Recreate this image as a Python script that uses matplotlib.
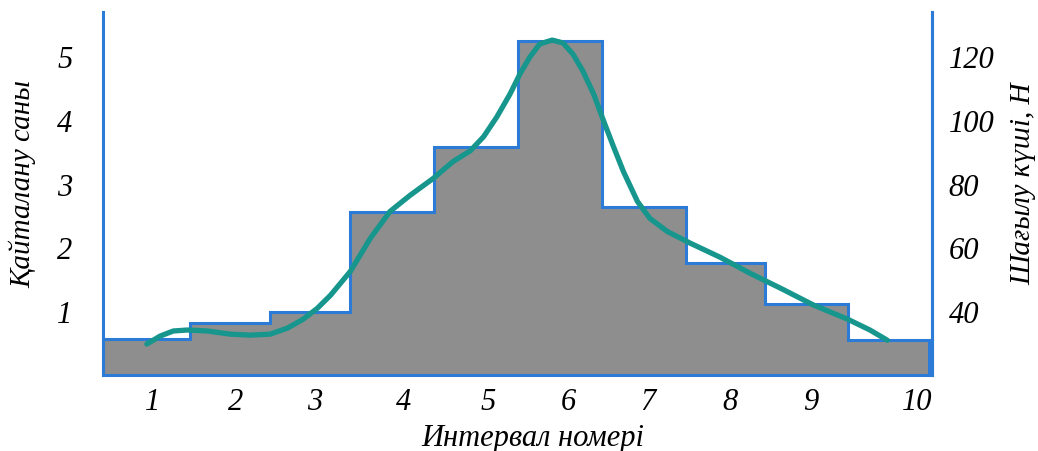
import numpy as np
import matplotlib
matplotlib.use("Agg")
import matplotlib.pyplot as plt

# histogram: bin edges and counts (left axis)
edges = [0, 1.05, 2.02, 2.99, 4.00, 5.02, 6.03, 7.05, 8.00, 9.01, 9.98]
counts = [0.56, 0.81, 0.98, 2.56, 3.58, 5.23, 2.63, 1.75, 1.11, 0.55]

# x tick labels
tick_labels = ["1", "2", "3", "4", "5", "6", "7", "8", "9", "10"]
tick_pos = [0.60, 1.60, 2.56, 3.63, 4.66, 5.62, 6.59, 7.58, 8.55, 9.84]

# reflected force curve (right axis)
curve_x = [0.53, 0.69, 0.85, 1.02, 1.26, 1.54, 1.78, 2.02, 2.23, 2.42,
           2.59, 2.75, 2.99, 3.23, 3.47, 3.71, 3.99, 4.23, 4.44, 4.60,
           4.76, 4.92, 5.04, 5.16, 5.28, 5.43, 5.56, 5.68, 5.80, 5.93,
           6.05, 6.17, 6.29, 6.46, 6.61, 6.82, 7.10, 7.46, 7.82, 8.19,
           8.59, 9.00, 9.27, 9.48]
curve_y = [29.7, 32.2, 33.8, 34.1, 33.8, 32.8, 32.5, 32.8, 34.7, 37.5,
           40.9, 45.0, 52.5, 62.8, 71.3, 76.3, 81.6, 86.9, 90.3, 94.7,
           100.9, 108.1, 114.4, 119.7, 123.8, 125.0, 124.1, 120.6, 115.3, 108.1,
           99.7, 91.6, 83.8, 74.4, 69.1, 65.0, 61.3, 56.9, 51.9, 47.2,
           41.9, 37.5, 34.1, 30.9]

blue = "#2c7bd6"
gray = "#8e8e8e"
teal = "#16968c"

plt.rcParams['font.family'] = ['Liberation Serif', 'DejaVu Serif']
plt.rcParams['font.style'] = 'italic'

fig = plt.figure(figsize=(10.38, 4.52), dpi=100)
ax = fig.add_axes([103/1038, 76/452, 829/1038, 363/452])

ax.stairs(counts, edges, fill=True, color=gray, baseline=0)
ax.stairs(counts, edges, color=blue, linewidth=2.2, baseline=0)

ax.set_xlim(0, 10.02)
ax.set_ylim(0, 5.69)
ax.set_xticks(tick_pos)
ax.set_xticklabels(tick_labels)
ax.set_yticks([1, 2, 3, 4, 5])
ax.tick_params(axis='x', length=0, pad=9, labelsize=22)
ax.tick_params(axis='y', length=0, pad=22, labelsize=22)

ax.spines['top'].set_visible(False)
for s in ['left', 'right', 'bottom']:
    ax.spines[s].set_color(blue)
    ax.spines[s].set_linewidth(2.2)

ax.set_xlabel("Интервал номері", fontsize=22)
ax.xaxis.set_label_coords(0.519, -0.132)
ax.set_ylabel("Қайталану саны", fontsize=21)
ax.yaxis.set_label_coords(-0.080, 0.53)

ax2 = ax.twinx()
ax2.plot(curve_x, curve_y, color=teal, linewidth=3.8, solid_joinstyle='round',
         solid_capstyle='round')
ax2.set_ylim(20, 133.8)
ax2.set_yticks([40, 60, 80, 100, 120])
ax2.tick_params(axis='y', length=0, pad=12, labelsize=22)
for s in ['top', 'left', 'bottom']:
    ax2.spines[s].set_visible(False)
ax2.spines['right'].set_color(blue)
ax2.spines['right'].set_linewidth(2.2)
ax2.set_ylabel("Шағылу күші, Н", fontsize=21)
ax2.yaxis.set_label_coords(1.094, 0.53)

fig.savefig("out.png", dpi=100)
